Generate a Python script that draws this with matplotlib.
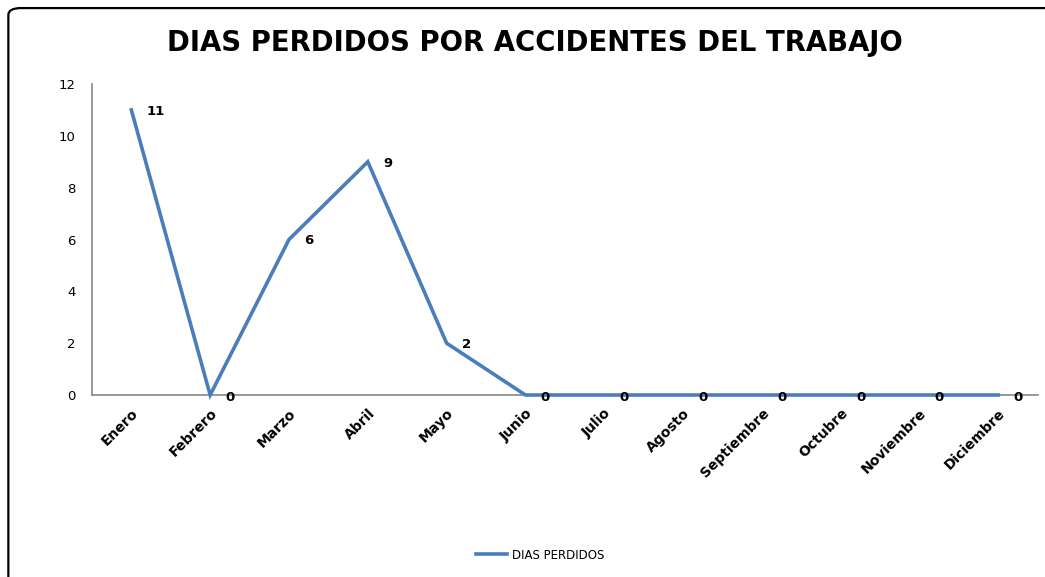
import matplotlib.pyplot as plt
from matplotlib.patches import FancyBboxPatch

meses = ['Enero', 'Febrero', 'Marzo', 'Abril', 'Mayo', 'Junio', 'Julio',
         'Agosto', 'Septiembre', 'Octubre', 'Noviembre', 'Diciembre']
dias_perdidos = [11, 0, 6, 9, 2, 0, 0, 0, 0, 0, 0, 0]
yticks = [0, 2, 4, 6, 8, 10, 12]

fig = plt.figure(figsize=(10.45, 5.77), dpi=100)
ax = fig.add_axes([0.088, 0.3154, 0.905, 0.5390])

x = list(range(len(meses)))
ax.plot(x, dias_perdidos, color='#4A7EBB', lw=2.6, label='DIAS PERDIDOS',
        solid_joinstyle='miter', zorder=5, clip_on=False)

for xi, v in zip(x, dias_perdidos):
    ax.annotate(str(v), (xi, v), xytext=(11, -1 if v else -2),
                textcoords='offset points', ha='left', va='center',
                fontsize=9.5, fontweight='bold', color='black', zorder=6)

ax.set_xlim(-0.5, 11.5)
ax.set_ylim(0, 12)
ax.set_yticks(yticks)
ax.tick_params(axis='y', length=0, labelsize=9.5, pad=12)
ax.set_xticks(x)
ax.set_xticklabels(meses, rotation=45, ha='right', rotation_mode='anchor',
                   fontsize=10, fontweight='bold')
ax.tick_params(axis='x', length=0, pad=8)

for s in ['top', 'right']:
    ax.spines[s].set_visible(False)
for s in ['left', 'bottom']:
    ax.spines[s].set_color('#878787')
    ax.spines[s].set_linewidth(1.2)
    ax.spines[s].set_zorder(1)

fig.text(0.512, 0.925, 'DIAS PERDIDOS POR ACCIDENTES DEL TRABAJO',
         ha='center', va='center', fontsize=19.8, fontweight='bold')

fig.legend(loc='center', bbox_to_anchor=(0.517, 0.038), frameon=False,
           fontsize=8.5, handlelength=2.6, handletextpad=0.4)

# chart frame with rounded corner
frame = FancyBboxPatch((0.008, -0.2), 1.2, 1.186,
                       boxstyle='round,pad=0,rounding_size=0.012',
                       transform=fig.transFigure, fill=False,
                       edgecolor='black', lw=1.6, zorder=0)
fig.patches.append(frame)

plt.savefig('out.png', dpi=100)
